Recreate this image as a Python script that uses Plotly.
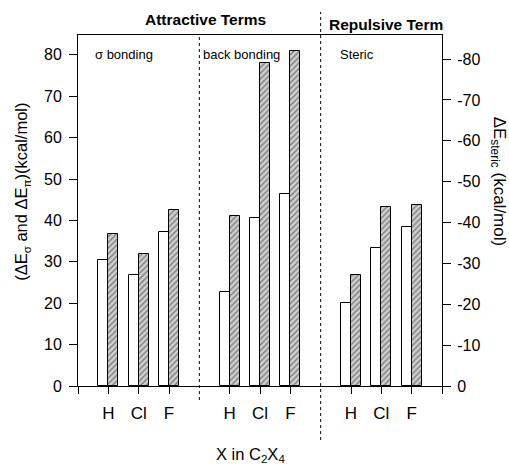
import plotly.graph_objects as go

categories = ["H", "Cl", "F"]
panels = ["σ bonding", "back bonding", "Steric"]

sigma_open = [30.5, 26.7, 37.2]
sigma_hatched = [36.7, 31.8, 42.6]
back_open = [22.7, 40.6, 46.3]
back_hatched = [41.0, 78.0, 80.9]
steric_open = [-20.2, -33.7, -39.0]
steric_hatched = [-27.1, -43.9, -44.2]

left_ticks = [0, 10, 20, 30, 40, 50, 60, 70, 80]
right_ticks = [0, -10, -20, -30, -40, -50, -60, -70, -80]

def xpos(panel):
    return [panel * 4 + i + 1 for i in range(len(categories))]

BW = 0.33
open_style = dict(color="white", line=dict(color="black", width=1))
hatch_style = dict(color="#c8c8c8", line=dict(color="black", width=1),
                   pattern=dict(shape="/", fgcolor="#2a2a2a", bgcolor="#cfcfcf",
                                size=4, solidity=0.35))

fig = go.Figure()
fig.add_trace(go.Bar(x=xpos(0) + xpos(1), y=sigma_open + back_open, width=BW, offset=-BW,
                     marker=open_style, yaxis="y", showlegend=False))
fig.add_trace(go.Bar(x=xpos(0) + xpos(1), y=sigma_hatched + back_hatched, width=BW, offset=0,
                     marker=hatch_style, yaxis="y", showlegend=False))
fig.add_trace(go.Bar(x=xpos(2), y=steric_open, width=BW, offset=-BW,
                     marker=open_style, yaxis="y2", showlegend=False))
fig.add_trace(go.Bar(x=xpos(2), y=steric_hatched, width=BW, offset=0,
                     marker=hatch_style, yaxis="y2", showlegend=False))

xt = xpos(0) + xpos(1) + xpos(2)
xtt = categories * 3

FONT = "Liberation Sans, Arial, sans-serif"
fig.update_layout(
    width=509, height=464,
    margin=dict(l=78, r=67, t=35, b=78),
    plot_bgcolor="white", paper_bgcolor="white",
    font=dict(family=FONT, color="black", size=16),
    xaxis=dict(range=[0, 12], tickvals=xt, ticktext=xtt, ticks="outside", ticklen=7,
               tickcolor="black", showline=True, linecolor="black", linewidth=1,
               mirror=True, showgrid=False, zeroline=False,
               tickfont=dict(size=17), ticklabelstandoff=5,
               minor=dict(tickvals=[0, 12], ticks="outside", ticklen=7, tickcolor="black",
                          showgrid=False)),
    yaxis=dict(range=[0, 84.8], tickvals=left_ticks, ticks="outside", ticklen=8,
               tickcolor="black", showline=True, linecolor="black", showgrid=False,
               zeroline=False, tickfont=dict(size=16), ticklabelstandoff=4),
    yaxis2=dict(range=[0, -85.9], overlaying="y", side="right", tickvals=right_ticks,
                ticktext=[str(v) for v in right_ticks], ticks="outside", ticklen=8,
                tickcolor="black", showline=True, linecolor="black", showgrid=False,
                zeroline=False, tickfont=dict(size=16), ticklabelstandoff=3),
    bargap=0,
)

fig.add_shape(type="line", xref="x", yref="paper", x0=4, x1=4, y0=-0.04, y1=1,
              line=dict(color="black", width=1, dash="dot"))
fig.add_shape(type="line", xref="x", yref="paper", x0=8, x1=8, y0=-0.154, y1=1.066,
              line=dict(color="black", width=1, dash="dot"))

# panel labels
for xp, txt in zip([0.042, 0.337, 0.714], panels):
    fig.add_annotation(x=xp, y=0.945, xref="paper", yref="paper", text=txt, showarrow=False,
                       xanchor="left", yanchor="middle", font=dict(size=13))

fig.add_annotation(x=0.349, y=1.043, xref="paper", yref="paper", text="<b>Attractive Terms</b>",
                   showarrow=False, xanchor="center", yanchor="middle", font=dict(size=15.5))
fig.add_annotation(x=0.846, y=1.031, xref="paper", yref="paper", text="<b>Repulsive Term</b>",
                   showarrow=False, xanchor="center", yanchor="middle", font=dict(size=15.5))

fig.add_annotation(x=-0.154, y=0.553, xref="paper", yref="paper",
                   text="(ΔE<sub>σ</sub> and ΔE<sub>π</sub>)(kcal/mol)", textangle=-90,
                   showarrow=False, xanchor="center", yanchor="middle", font=dict(size=16.5))
fig.add_annotation(x=1.155, y=0.581, xref="paper", yref="paper",
                   text="ΔE<sub>steric</sub> (kcal/mol)", textangle=90,
                   showarrow=False, xanchor="center", yanchor="middle", font=dict(size=17))
fig.add_annotation(x=0.475, y=-0.197, xref="paper", yref="paper",
                   text="X in C<sub>2</sub>X<sub>4</sub>",
                   showarrow=False, xanchor="center", yanchor="middle", font=dict(size=16.5))

fig.write_html("out.html")
